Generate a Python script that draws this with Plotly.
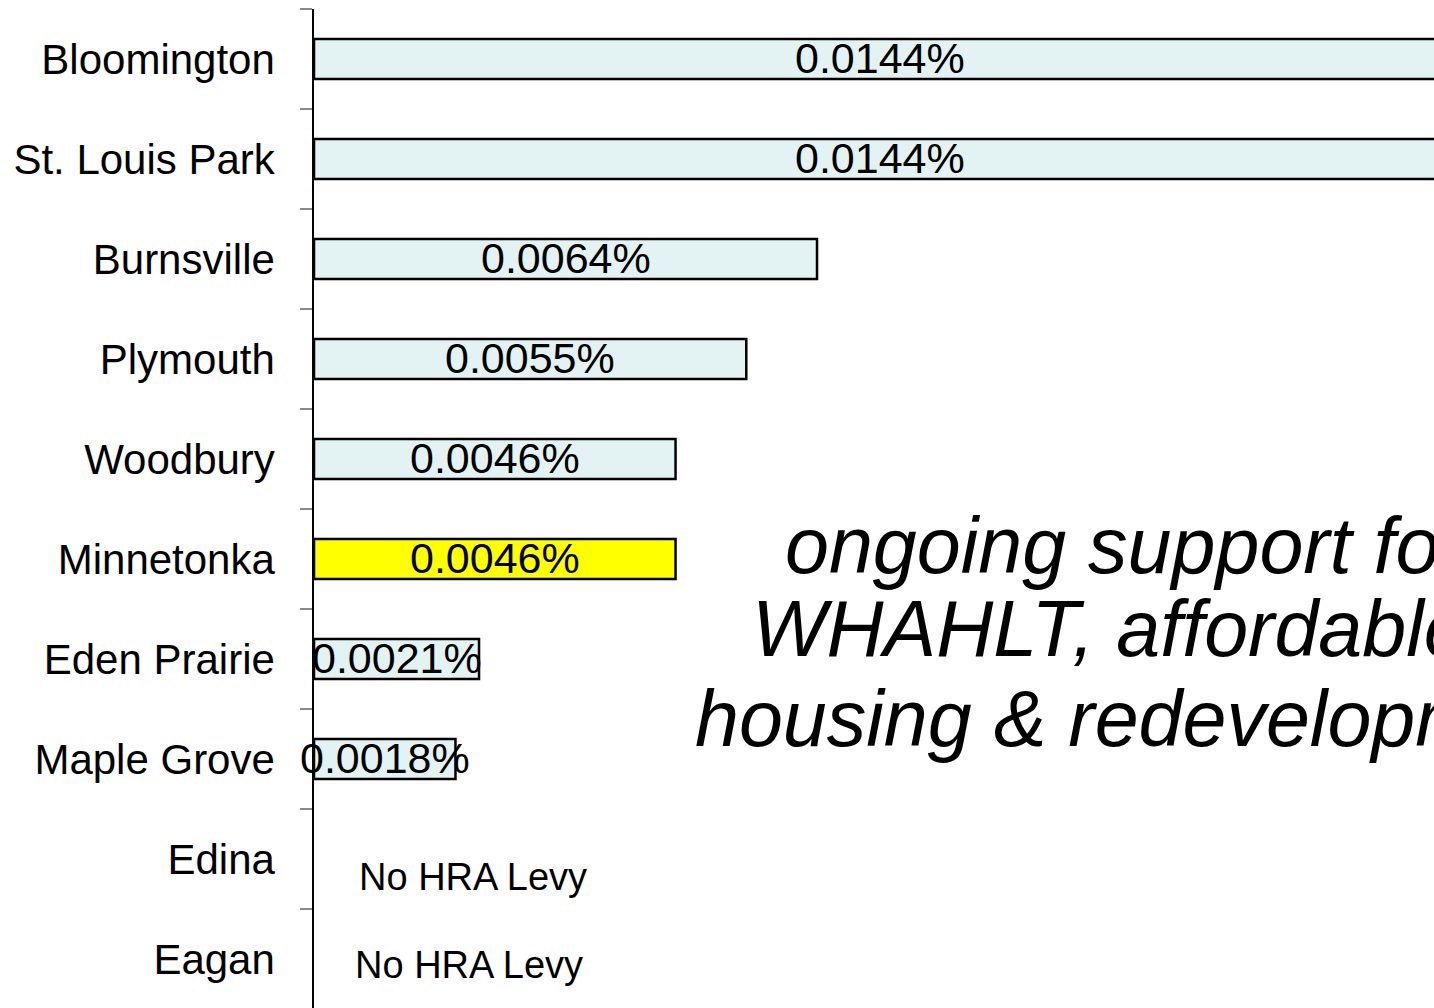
import plotly.graph_objects as go

cities = ["Bloomington", "St. Louis Park", "Burnsville", "Plymouth", "Woodbury",
          "Minnetonka", "Eden Prairie", "Maple Grove", "Edina", "Eagan"]
levy = [0.0144, 0.0144, 0.0064, 0.0055, 0.0046, 0.0046, 0.0021, 0.0018, None, None]
labels = ["0.0144%", "0.0144%", "0.0064%", "0.0055%", "0.0046%", "0.0046%",
          "0.0021%", "0.0018%", "", ""]
no_levy_cities = ["Edina", "Eagan"]
no_levy_text = "No HRA Levy"
note_lines = ["ongoing support for", "WHAHLT, affordable", "housing & redevelopment"]

base_color = "#E3F3F3"
highlight = "#FFFF00"
colors = [highlight if c == "Minnetonka" else base_color for c in cities]

FONT = "Liberation Sans, Arial"

fig = go.Figure()
fig.add_trace(go.Bar(
    y=cities, x=levy, orientation="h", width=0.4,
    marker=dict(color=colors, line=dict(color="black", width=2.5)),
    hoverinfo="skip", showlegend=False,
))

annotations = []
for c, v, t in zip(cities, levy, labels):
    if v is None:
        continue
    annotations.append(dict(
        x=v / 2, y=c, xref="x", yref="y", text=t, showarrow=False,
        yshift=1, font=dict(family=FONT, size=43, color="black"),
        xanchor="center", yanchor="middle",
    ))
for c, xv, shift in zip(no_levy_cities, [0.00202, 0.00197], [-18, -6]):
    annotations.append(dict(
        x=xv, y=c, xref="x", yref="y", text=no_levy_text, showarrow=False,
        yshift=shift, font=dict(family=FONT, size=38, color="black"),
        xanchor="center", yanchor="middle",
    ))
# plot area: 314..1434 px wide, 9..1008 px tall (999 px)
for line, xs, yp in zip(note_lines, [783, 750, 693], [545, 628, 718]):
    annotations.append(dict(
        x=(xs - 314) / 1120, y=1 - (yp - 9) / 999, xref="paper", yref="paper",
        text=line, showarrow=False,
        font=dict(family=FONT, size=79, color="black", style="italic"),
        xanchor="left", yanchor="middle",
    ))

fig.update_layout(
    width=1434, height=1008,
    margin=dict(l=314, r=0, t=9, b=0),
    paper_bgcolor="white", plot_bgcolor="white",
    annotations=annotations,
    xaxis=dict(range=[0, 0.01425], visible=False, showgrid=False, zeroline=False),
    yaxis=dict(
        range=[9.49, -0.5], showgrid=False, zeroline=False,
        showline=True, linecolor="black", linewidth=1.5,
        ticks="outside", ticklen=12, tickcolor="#888888", tickwidth=1.5,
        tickson="boundaries", ticklabelstandoff=29,
        tickfont=dict(family=FONT, size=42, color="black"),
    ),
)

fig.write_html(
    "out.html",
    config={"displayModeBar": False},
    post_script="document.body.style.margin='0';"
                "document.documentElement.style.overflow='hidden';"
                "document.body.style.overflow='hidden';",
)
